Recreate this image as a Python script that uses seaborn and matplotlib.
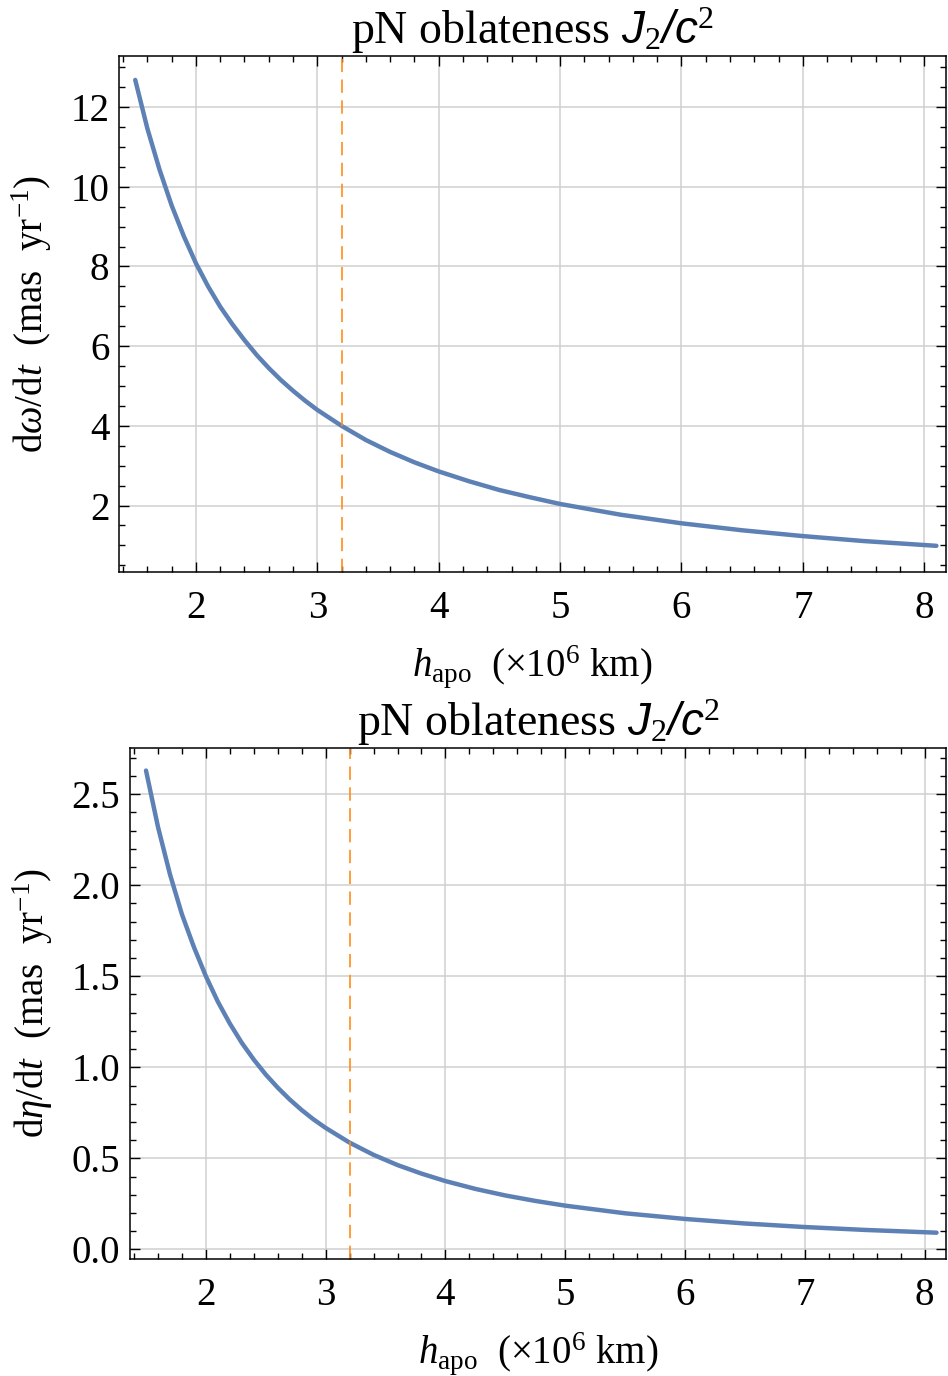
import matplotlib
matplotlib.use("Agg")
import matplotlib.pyplot as plt
from matplotlib.ticker import MultipleLocator
import seaborn as sns
import pandas as pd

# values
h_apo = [1.5, 1.6, 1.7, 1.8, 1.9, 2.0, 2.1, 2.2, 2.3, 2.4, 2.5, 2.6, 2.7, 2.8, 2.9,
         3.0, 3.2, 3.4, 3.6, 3.8, 4.0, 4.25, 4.5, 4.75, 5.0, 5.5, 6.0, 6.5, 7.0,
         7.5, 8.1]
domega = [12.68, 11.46, 10.43, 9.53, 8.76, 8.08, 7.50, 6.99, 6.55, 6.15, 5.78, 5.45,
          5.15, 4.88, 4.63, 4.40, 4.0, 3.645, 3.346, 3.085, 2.857, 2.61, 2.39, 2.21,
          2.04, 1.77, 1.555, 1.38, 1.234, 1.11, 0.99]
deta = [2.63, 2.32, 2.06, 1.84, 1.66, 1.50, 1.36, 1.24, 1.134, 1.042, 0.96, 0.888,
        0.823, 0.765, 0.713, 0.667, 0.586, 0.519, 0.463, 0.416, 0.375, 0.332, 0.296,
        0.266, 0.24, 0.198, 0.167, 0.142, 0.1225, 0.1067, 0.0915]
h_marker = 3.2

sns.set_theme(style="whitegrid")
plt.rcParams["font.family"] = ["Liberation Serif", "DejaVu Serif"]
plt.rcParams["mathtext.fontset"] = "custom"
plt.rcParams["mathtext.rm"] = "Liberation Serif"
plt.rcParams["mathtext.it"] = "Liberation Serif:italic"
plt.rcParams["mathtext.sf"] = "Liberation Sans:italic"
plt.rcParams["text.color"] = "black"
plt.rcParams["axes.labelcolor"] = "black"
plt.rcParams["xtick.color"] = "black"
plt.rcParams["ytick.color"] = "black"

df = pd.DataFrame({"h": h_apo, "omega": domega, "eta": deta})

fig = plt.figure(figsize=(9.48, 13.76), dpi=100)
ax1 = fig.add_axes([0.1255, 0.5845, 0.8725, 0.3748])
ax2 = fig.add_axes([0.1371, 0.0853, 0.8609, 0.3711])

title = "pN oblateness " + r"$\mathsf{J}_{2}\mathsf{/c}^{2}$"
blue = "#5E81B5"
orange = "#FF8C1A"

panels = [
    (ax1, "omega", r"d$\omega$/d$t$  (mas  yr$^{-1}$)", (0.34, 13.28), 2, 0.5),
    (ax2, "eta", r"d$\eta$/d$t$  (mas  yr$^{-1}$)", (-0.051, 2.754), 0.5, 0.1),
]

for ax, col, ylab, ylim, ymaj, ymin in panels:
    ax.set_facecolor("white")
    sns.lineplot(data=df, x="h", y=col, ax=ax, color=blue, linewidth=3.2)
    ax.axvline(h_marker, color=orange, linewidth=1.2, dashes=(8, 4.5))
    ax.set_xlim(1.366, 8.18)
    ax.set_ylim(*ylim)
    ax.xaxis.set_major_locator(MultipleLocator(1))
    ax.xaxis.set_minor_locator(MultipleLocator(0.2))
    ax.yaxis.set_major_locator(MultipleLocator(ymaj))
    ax.yaxis.set_minor_locator(MultipleLocator(ymin))
    ax.grid(True, which="major", color="#cfcfcf", linewidth=1.1)
    ax.grid(False, which="minor")
    for s in ax.spines.values():
        s.set_color("black")
        s.set_linewidth(1.1)
    ax.tick_params(which="both", direction="in", top=True, right=True,
                   bottom=True, left=True, color="black", width=1.0)
    ax.tick_params(which="major", length=7, labelsize=28, pad=7)
    ax.tick_params(axis="x", which="major", pad=13)
    ax.tick_params(which="minor", length=4)
    ax.set_xlabel(r"$h_{\rm apo}$  (×10$^{6}$ km)", fontsize=28, labelpad=12)
    ax.set_ylabel(ylab, fontsize=28, labelpad=12)
    ax.set_title(title, fontsize=33, pad=3)

ax2.set_yticks([0.0, 0.5, 1.0, 1.5, 2.0, 2.5])
ax2.set_yticklabels(["0.0", "0.5", "1.0", "1.5", "2.0", "2.5"])

fig.savefig("out.png", dpi=100)
